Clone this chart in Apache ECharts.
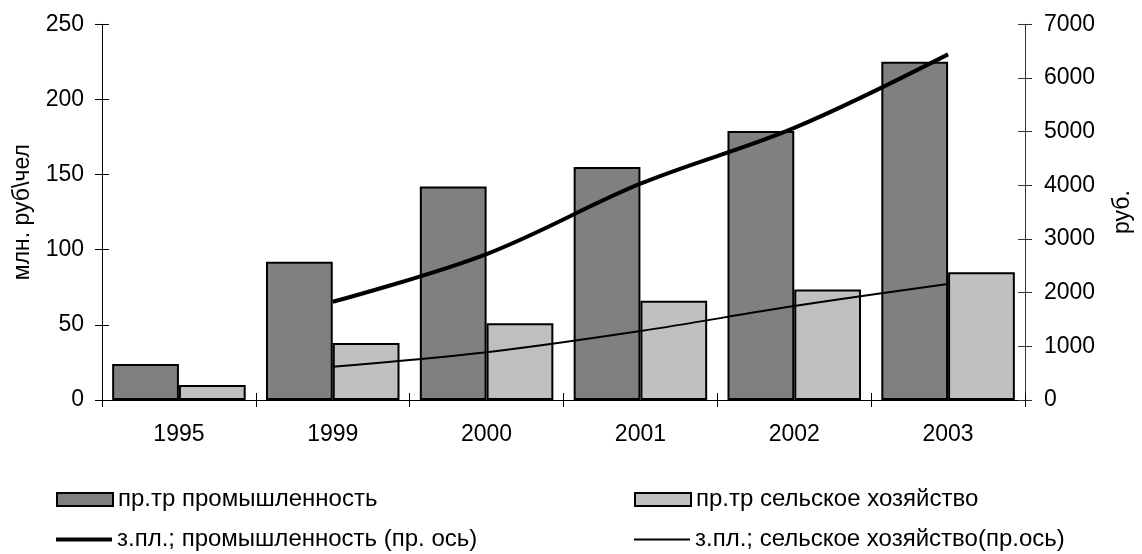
<!DOCTYPE html>
<html>
<head>
<meta charset="utf-8">
<script src="https://cdn.jsdelivr.net/npm/echarts@6/dist/echarts.min.js"></script>
<style>html,body{margin:0;padding:0;background:#fff}#c{width:1142px;height:554px}</style>
</head>
<body>
<div id="c"></div>
<script>
const categories = ['1995', '1999', '2000', '2001', '2002', '2003'];
const industryProd = [24, 92, 142, 155, 179, 225];
const agriProd = [10, 38, 51, 66, 73.5, 85];
const industryWage = [null, 1830, 2720, 4030, 5070, 6440];
const agriWage = [null, 620, 890, 1285, 1750, 2160];
const leftTicks = { min: 0, max: 250, interval: 50 };
const rightTicks = { min: 0, max: 7000, interval: 1000 };
const names = ['пр.тр промышленность', 'пр.тр сельское хозяйство', 'з.пл.; промышленность (пр. ось)', 'з.пл.; сельское хозяйство(пр.ось)'];

const FONT = 'Liberation Sans';
const FS = 23;
const txt = { color: '#000', fontFamily: FONT, fontSize: FS };
const legTxt = { color: '#000', fontFamily: FONT, fontSize: 24 };

const chart = echarts.init(document.getElementById('c'), null, { renderer: 'canvas' });

function legendAt(name, left, centerY, iconH, style) {
  return {
    left: left, top: centerY - 12, padding: 0, itemGap: 0,
    itemWidth: 56, itemHeight: iconH, icon: 'rect',
    itemStyle: style,
    textStyle: legTxt,
    selectedMode: false,
    data: [name]
  };
}

chart.setOption({
  animation: false,
  grid: { left: 102, right: 109, top: 24.3, bottom: 154, containLabel: false },
  legend: [
    legendAt(names[0], 56, 499.5, 13, { color: '#808080', borderColor: '#000', borderWidth: 2 }),
    legendAt(names[2], 56, 539.5, 4, { color: '#000', borderWidth: 0 }),
    legendAt(names[1], 634, 499.5, 13, { color: '#c0c0c0', borderColor: '#000', borderWidth: 2 }),
    legendAt(names[3], 634, 539.5, 2, { color: '#000', borderWidth: 0 })
  ],
  xAxis: [{
    type: 'category', data: categories, position: 'bottom',
    axisLine: { show: true, lineStyle: { color: '#000', width: 1 } },
    axisTick: { show: true, length: 7, inside: false, lineStyle: { color: '#000' } },
    axisLabel: Object.assign({ margin: 23 }, txt),
    splitLine: { show: false }
  }, {
    type: 'category', data: categories, position: 'bottom',
    axisLine: { show: false },
    axisTick: { show: true, length: 7, inside: true, lineStyle: { color: '#000' } },
    axisLabel: { show: false },
    splitLine: { show: false }
  }],
  yAxis: [{
    type: 'value', position: 'left', min: leftTicks.min, max: leftTicks.max, interval: leftTicks.interval,
    name: 'млн. руб\\чел', nameLocation: 'middle', nameRotate: 90, nameGap: 68,
    nameTextStyle: txt,
    axisLine: { show: true, lineStyle: { color: '#000', width: 1 } },
    axisTick: { show: true, length: 7, inside: false, lineStyle: { color: '#000' } },
    axisLabel: Object.assign({ margin: 18 }, txt),
    splitLine: { show: false }
  }, {
    type: 'value', position: 'right', min: rightTicks.min, max: rightTicks.max, interval: rightTicks.interval,
    name: 'руб.', nameLocation: 'middle', nameRotate: 90, nameGap: 86,
    nameTextStyle: txt,
    axisLine: { show: true, lineStyle: { color: '#333', width: 1 } },
    axisTick: { show: true, length: 7, inside: false, lineStyle: { color: '#333' } },
    axisLabel: Object.assign({ margin: 19, formatter: function (v) { return String(v); } }, txt),
    splitLine: { show: false }
  }, {
    type: 'value', position: 'left', min: leftTicks.min, max: leftTicks.max, interval: leftTicks.interval,
    axisLine: { show: false },
    axisTick: { show: true, length: 7, inside: true, lineStyle: { color: '#000' } },
    axisLabel: { show: false }, splitLine: { show: false }
  }, {
    type: 'value', position: 'right', min: rightTicks.min, max: rightTicks.max, interval: rightTicks.interval,
    axisLine: { show: false },
    axisTick: { show: true, length: 7, inside: true, lineStyle: { color: '#333' } },
    axisLabel: { show: false }, splitLine: { show: false }
  }],
  series: [{
    name: names[0], type: 'bar', xAxisIndex: 0, yAxisIndex: 0, data: industryProd,
    barGap: '0%', barCategoryGap: '13.2%',
    itemStyle: { color: '#808080', borderColor: '#000', borderWidth: 2 }
  }, {
    name: names[1], type: 'bar', xAxisIndex: 0, yAxisIndex: 0, data: agriProd,
    barGap: '0%', barCategoryGap: '13.2%',
    itemStyle: { color: '#c0c0c0', borderColor: '#000', borderWidth: 2 }
  }, {
    name: names[2], type: 'line', xAxisIndex: 0, yAxisIndex: 1, data: industryWage,
    smooth: 0.35, symbol: 'none', connectNulls: false,
    lineStyle: { color: '#000', width: 4 }, itemStyle: { color: '#000' }
  }, {
    name: names[3], type: 'line', xAxisIndex: 0, yAxisIndex: 1, data: agriWage,
    smooth: 0.35, symbol: 'none', connectNulls: false,
    lineStyle: { color: '#000', width: 2 }, itemStyle: { color: '#000' }
  }]
});
</script>
</body>
</html>
